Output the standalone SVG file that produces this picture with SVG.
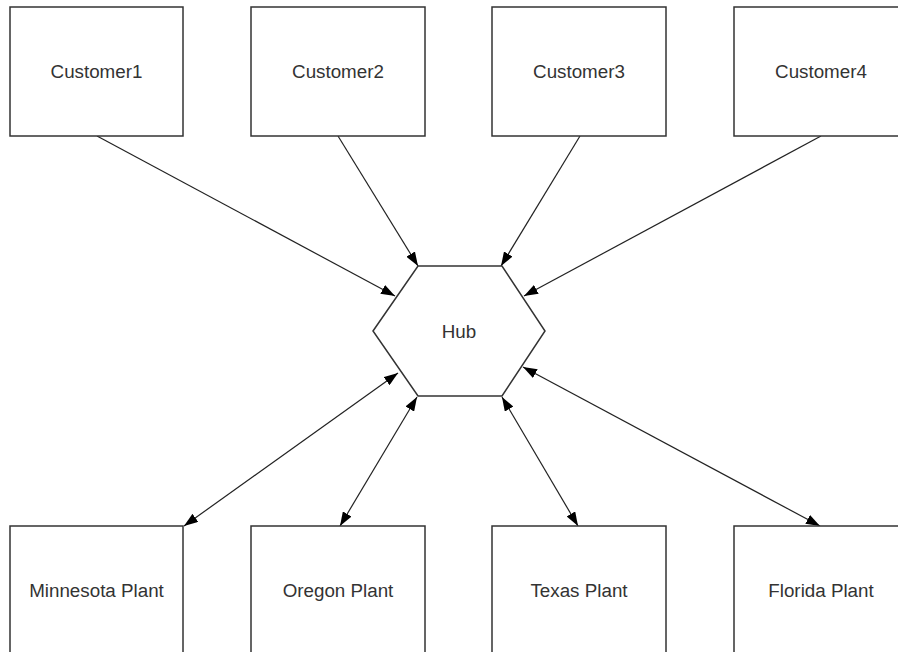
<svg xmlns="http://www.w3.org/2000/svg" width="898" height="652" viewBox="0 0 898 652">
<defs>
<style>
.box{fill:#fff;stroke:#333;stroke-width:1.5}
.lbl{font-family:"Liberation Sans",Arial,sans-serif;font-size:18.8px;fill:#333;text-anchor:middle;dominant-baseline:central}
.con{stroke:#222;stroke-width:1.2;fill:none;marker-end:url(#ah)}
.bi{marker-start:url(#ahs)}
</style>
<marker id="ah" viewBox="0 0 14 10" refX="14" refY="5" markerWidth="14" markerHeight="10" markerUnits="userSpaceOnUse" orient="auto"><path d="M0,0 L14,5 L0,10 z" fill="#000"/></marker>
<marker id="ahs" viewBox="0 0 14 10" refX="0" refY="5" markerWidth="14" markerHeight="10" markerUnits="userSpaceOnUse" orient="auto"><path d="M14,0 L0,5 L14,10 z" fill="#000"/></marker>
</defs>
<rect width="898" height="652" fill="#fff"/>
<g id="connectors">
<line class="con" x1="97" y1="136" x2="395" y2="296"/>
<line class="con" x1="338" y1="136" x2="418" y2="266"/>
<line class="con" x1="580" y1="136" x2="501" y2="266"/>
<line class="con" x1="821" y1="136" x2="524" y2="296"/>
<line class="con bi" x1="398" y1="373" x2="184" y2="526"/>
<line class="con bi" x1="417" y1="397" x2="340" y2="526"/>
<line class="con bi" x1="502" y1="397" x2="578" y2="526"/>
<line class="con bi" x1="523" y1="367" x2="820" y2="526"/>
</g>
<g id="customer1"><rect class="box" x="10" y="7" width="173" height="129"/><text class="lbl" x="96.5" y="71.5">Customer1</text></g>
<g id="customer2"><rect class="box" x="251" y="7" width="174" height="129"/><text class="lbl" x="338" y="71.5">Customer2</text></g>
<g id="customer3"><rect class="box" x="492" y="7" width="174" height="129"/><text class="lbl" x="579" y="71.5">Customer3</text></g>
<g id="customer4"><rect class="box" x="734" y="7" width="174" height="129"/><text class="lbl" x="821" y="71.5">Customer4</text></g>
<g id="hub"><polygon class="box" points="373,331 418,266 502,266 545,331 502,396 418,396"/><text class="lbl" x="459" y="331">Hub</text></g>
<g id="minnesota"><rect class="box" x="10" y="526" width="173" height="130"/><text class="lbl" x="96.5" y="590">Minnesota Plant</text></g>
<g id="oregon"><rect class="box" x="251" y="526" width="174" height="130"/><text class="lbl" x="338" y="590">Oregon Plant</text></g>
<g id="texas"><rect class="box" x="492" y="526" width="174" height="130"/><text class="lbl" x="579" y="590">Texas Plant</text></g>
<g id="florida"><rect class="box" x="734" y="526" width="174" height="130"/><text class="lbl" x="821" y="590">Florida Plant</text></g>
</svg>
